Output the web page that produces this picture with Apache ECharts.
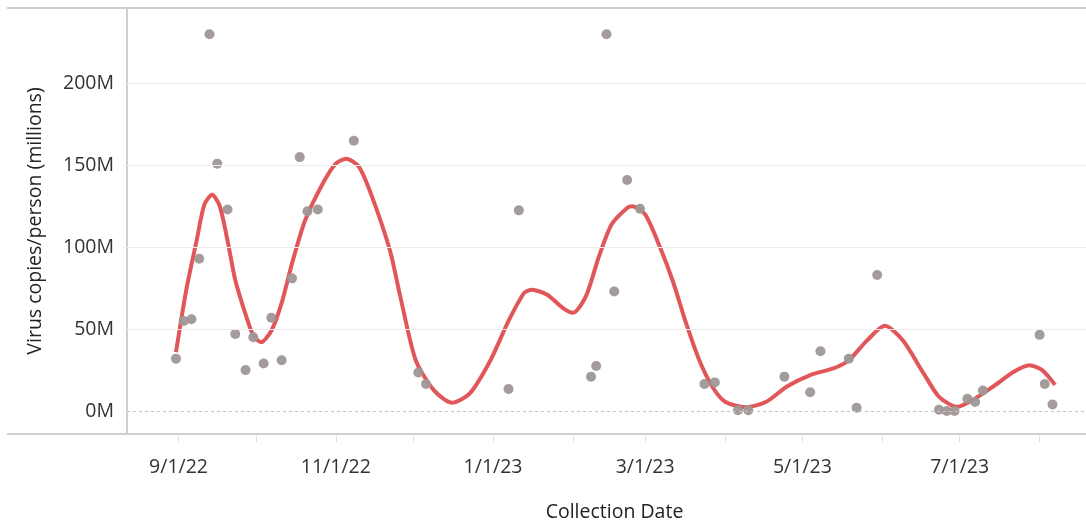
<!DOCTYPE html>
<html>
<head>
<meta charset="utf-8">
<script src="https://cdn.jsdelivr.net/npm/echarts@6/dist/echarts.min.js"></script>
<style>
html, body { margin: 0; padding: 0; background: #fff; }
#chart { width: 1086px; height: 521px; }
</style>
</head>
<body>
<div id="chart"></div>
<script>
// sample points (date, virus copies/person in millions)
var sampleDates = ['2022-08-31','2022-09-03','2022-09-06','2022-09-09','2022-09-13','2022-09-16','2022-09-20','2022-09-23',
    '2022-09-27','2022-09-30','2022-10-04','2022-10-07','2022-10-11','2022-10-15','2022-10-18','2022-10-21','2022-10-25',
    '2022-11-08','2022-12-03','2022-12-06','2023-01-07','2023-01-11','2023-02-08','2023-02-10','2023-02-14','2023-02-17',
    '2023-02-22','2023-02-27','2023-03-24','2023-03-28','2023-04-06','2023-04-10','2023-04-24','2023-05-04','2023-05-08',
    '2023-05-19','2023-05-22','2023-05-30','2023-06-23','2023-06-26','2023-06-29','2023-07-04','2023-07-07','2023-07-10',
    '2023-08-01','2023-08-03','2023-08-06'];
var sampleValues = [32, 55, 56, 93, 230, 151, 123, 47,
    25, 45, 29, 57, 31, 81, 155, 122, 123,
    165, 23.5, 16.5, 13.5, 122.5, 21, 27.5, 230, 73,
    141, 123.5, 16.5, 17.5, 0.5, 0.5, 21, 11.5, 36.5,
    32, 2, 83, 0.8, 0, 0, 7.5, 5.5, 12.5,
    46.5, 16.5, 4];

// smoothed trend
var trendDates = ['2022-08-31','2022-09-04','2022-09-08','2022-09-11','2022-09-14','2022-09-17','2022-09-20','2022-09-23',
    '2022-09-27','2022-09-30','2022-10-03','2022-10-07','2022-10-11','2022-10-15','2022-10-20','2022-10-27','2022-11-01',
    '2022-11-05','2022-11-10','2022-11-15','2022-11-22','2022-11-26','2022-12-02','2022-12-09','2022-12-16','2022-12-23',
    '2022-12-31','2023-01-07','2023-01-13','2023-01-16','2023-01-22','2023-01-28','2023-02-01','2023-02-06','2023-02-11',
    '2023-02-16','2023-02-22','2023-02-24','2023-03-01','2023-03-07','2023-03-12','2023-03-17','2023-03-22','2023-03-27',
    '2023-04-01','2023-04-09','2023-04-17','2023-04-25','2023-05-04','2023-05-13','2023-05-19','2023-05-26','2023-06-02',
    '2023-06-09','2023-06-17','2023-06-23','2023-06-30','2023-07-06','2023-07-14','2023-07-22','2023-07-28','2023-08-02',
    '2023-08-07'];
var trendValues = [36, 74, 104, 126, 132, 125, 104, 80,
    59, 46, 42, 49, 66, 90, 116, 139, 151,
    154, 149, 131, 98, 70, 31, 12.8, 5.1, 10.8,
    31, 55, 72, 74, 71, 63, 60, 70, 94,
    114, 124, 125, 120, 99, 78, 53, 31, 15,
    5.7, 2.3, 5.7, 15, 22, 26, 31, 43, 52,
    43, 23, 8.7, 2.6, 6.7, 15, 24, 28, 25,
    16];

var tickMonths = ['2022-09-01','2022-10-01','2022-11-01','2022-12-01','2023-01-01','2023-02-01','2023-03-01',
    '2023-04-01','2023-05-01','2023-06-01','2023-07-01','2023-08-01'];
var labelMonths = ['2022-09-01','2022-11-01','2023-01-01','2023-03-01','2023-05-01','2023-07-01'];
var yLabels = [0, 50, 100, 150, 200];
var gridValues = [50, 100, 150, 200];

function d(s) { return new Date(s + 'T00:00:00').getTime(); }

var scatterData = sampleDates.map(function (s, i) { return [d(s), sampleValues[i]]; });
var trendData = trendDates.map(function (s, i) { return [d(s), trendValues[i]]; });

var chart = echarts.init(document.getElementById('chart'));
var font = '"Open Sans", "Noto Sans", sans-serif';
var option = {
    animation: false,
    backgroundColor: '#fff',
    textStyle: { fontFamily: font },
    grid: { left: 127, right: 0, top: 8, bottom: 87, containLabel: false, outerBoundsMode: 'none' },
    xAxis: {
        type: 'value',
        min: d('2022-08-12'),
        max: d('2023-08-19'),
        name: 'Collection Date',
        nameLocation: 'middle',
        nameGap: 68,
        nameTextStyle: { fontSize: 19.5, color: '#222', fontFamily: font, padding: [0, 0, 0, 16] },
        axisLine: { show: true, onZero: false, lineStyle: { color: '#cfcfcf', width: 2 } },
        axisTick: { show: true, length: 8, lineStyle: { color: '#e2e2e2', width: 1 },
            customValues: tickMonths.map(d) },
        axisLabel: {
            customValues: labelMonths.map(d),
            fontSize: 19.5, color: '#333', margin: 23, fontFamily: font,
            formatter: function (v) {
                var t = new Date(v);
                return (t.getMonth() + 1) + '/' + t.getDate() + '/' + String(t.getFullYear()).slice(2);
            }
        },
        splitLine: { show: false }
    },
    yAxis: {
        type: 'value',
        min: -14,
        max: 246,
        name: 'Virus copies/person (millions)',
        nameLocation: 'middle',
        nameGap: 82,
        nameTextStyle: { fontSize: 19.5, color: '#222', fontFamily: font },
        axisLine: { show: true, onZero: false, lineStyle: { color: '#cfcfcf', width: 2 } },
        axisTick: { show: true, length: 4, lineStyle: { color: '#ececec' }, customValues: yLabels },
        axisLabel: {
            customValues: yLabels,
            fontSize: 19.5, color: '#333', margin: 13, fontFamily: font,
            formatter: function (v) { return v + 'M'; }
        },
        splitLine: { show: false }
    },
    graphic: [
        { type: 'line', shape: { x1: 7, y1: 8, x2: 1086, y2: 8 }, style: { stroke: '#cfcfcf', lineWidth: 2 }, z: 1 },
        { type: 'line', shape: { x1: 7, y1: 434, x2: 127, y2: 434 }, style: { stroke: '#cfcfcf', lineWidth: 2 }, z: 1 }
    ],
    series: [
        {
            type: 'line',
            data: [],
            silent: true,
            markLine: {
                silent: true,
                symbol: 'none',
                label: { show: false },
                lineStyle: { color: '#ececec', width: 1, type: 'solid' },
                data: gridValues.map(function (v) { return { yAxis: v }; }).concat([
                    { yAxis: 0, lineStyle: { color: '#c4c4c4', type: [3, 3], width: 1 } }
                ])
            },
            z: 1
        },
        {
            name: 'trend',
            type: 'line',
            data: trendData,
            smooth: 0.25,
            showSymbol: false,
            lineStyle: { color: '#e15759', width: 4 },
            z: 2
        },
        {
            name: 'samples',
            type: 'scatter',
            data: scatterData,
            symbolSize: 10,
            itemStyle: { color: '#9f9796', opacity: 0.95 },
            z: 3
        }
    ]
};
chart.setOption(option);
</script>
</body>
</html>
